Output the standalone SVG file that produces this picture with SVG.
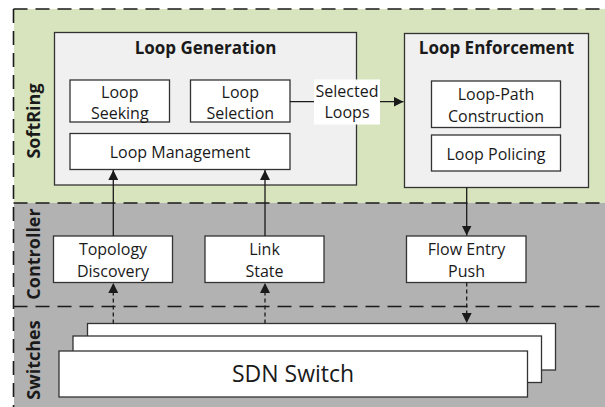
<svg xmlns="http://www.w3.org/2000/svg" width="605" height="407" viewBox="0 0 605 407">
<defs>
<marker id="ah" viewBox="0 0 10 10" refX="10" refY="5" markerWidth="10" markerHeight="10" markerUnits="userSpaceOnUse" orient="auto">
<path d="M0,0 L10,5 L0,10 z" fill="#1a1a1a"/>
</marker>
<style>
.t{font-family:"Open Sans","Noto Sans",sans-serif;font-size:16px;fill:#1a1a1a;text-anchor:middle}
.b{font-weight:bold;font-size:17px}
.v{font-weight:bold;font-size:18px}
.box{fill:#ffffff;stroke:#333333;stroke-width:1.3}
.grp{fill:#f0f0f0;stroke:#333333;stroke-width:1.3}
.dash{fill:none;stroke:#1a1a1a;stroke-width:1.6;stroke-dasharray:14 8}
.c{fill:none;stroke:#1a1a1a;stroke-width:1.3}
.cd{fill:none;stroke:#1a1a1a;stroke-width:1.3;stroke-dasharray:4 3}
</style>
</defs>
<g id="layers">
<rect x="14" y="9" width="591" height="194" fill="#d7e4bd"/>
<rect x="14" y="203" width="591" height="204" fill="#b2b2b2"/>
<path class="dash" d="M13.5,9 H605 M13.5,9 V407 M13.5,203 H605 M13.5,306.5 H605"/>
<text class="t v" transform="translate(40,121) rotate(-90)">SoftRing</text>
<text class="t v" transform="translate(40,254) rotate(-90)">Controller</text>
<text class="t v" transform="translate(40,360) rotate(-90)">Switches</text>
</g>
<g id="loop-generation">
<rect class="grp" x="54.5" y="32.5" width="302" height="152.5"/>
<text class="t b" x="205.5" y="53.5">Loop Generation</text>
</g>
<g id="loop-seeking">
<rect class="box" x="70" y="80" width="99.5" height="42"/>
<text class="t" x="119.75" y="97.5">Loop</text>
<text class="t" x="119.75" y="119">Seeking</text>
</g>
<g id="loop-selection">
<rect class="box" x="190.5" y="80" width="99.5" height="42"/>
<text class="t" x="240.25" y="97.5">Loop</text>
<text class="t" x="240.25" y="119">Selection</text>
</g>
<g id="loop-management">
<rect class="box" x="70" y="133.5" width="220" height="36"/>
<text class="t" x="180" y="158">Loop Management</text>
</g>
<g id="loop-enforcement">
<rect class="grp" x="404.5" y="33.5" width="184" height="154"/>
<text class="t b" x="496.5" y="54">Loop Enforcement</text>
</g>
<g id="loop-path-construction">
<rect class="box" x="431.5" y="81" width="129" height="46.5"/>
<text class="t" x="496" y="100">Loop-Path</text>
<text class="t" x="496" y="122">Construction</text>
</g>
<g id="loop-policing">
<rect class="box" x="431.5" y="135" width="129" height="36"/>
<text class="t" x="496" y="159.5">Loop Policing</text>
</g>
<g id="topology-discovery">
<rect class="box" x="53.5" y="236" width="119" height="46.5"/>
<text class="t" x="113" y="255">Topology</text>
<text class="t" x="113" y="277">Discovery</text>
</g>
<g id="link-state">
<rect class="box" x="205" y="236" width="119" height="46.5"/>
<text class="t" x="264.5" y="255">Link</text>
<text class="t" x="264.5" y="277">State</text>
</g>
<g id="flow-entry-push">
<rect class="box" x="406.5" y="236" width="119.5" height="46.5"/>
<text class="t" x="466.5" y="255">Flow Entry</text>
<text class="t" x="466.5" y="277">Push</text>
</g>
<g id="sdn-switch">
<rect class="box" x="87.5" y="323.5" width="468" height="46.5"/>
<rect class="box" x="73" y="336" width="468.5" height="46.5"/>
<rect class="box" x="59" y="351" width="468.5" height="46"/>
<text class="t" x="293" y="382" style="font-size:23px">SDN Switch</text>
</g>
<g id="connectors">
<path class="c" d="M290,101.7 H403.5" marker-end="url(#ah)"/>
<rect x="314" y="79.5" width="66" height="45" fill="#ffffff"/>
<text class="t" x="347" y="96.5">Selected</text>
<text class="t" x="347" y="118">Loops</text>
<path class="c" d="M466.7,187.5 V235.5" marker-end="url(#ah)"/>
<path class="c" d="M113.3,236 V170" marker-end="url(#ah)"/>
<path class="c" d="M265,236 V170" marker-end="url(#ah)"/>
<path class="cd" d="M113.3,323.5 V283" marker-end="url(#ah)"/>
<path class="cd" d="M265,323.5 V283" marker-end="url(#ah)"/>
<path class="cd" d="M466.7,282.5 V323" marker-end="url(#ah)"/>
</g>
</svg>
